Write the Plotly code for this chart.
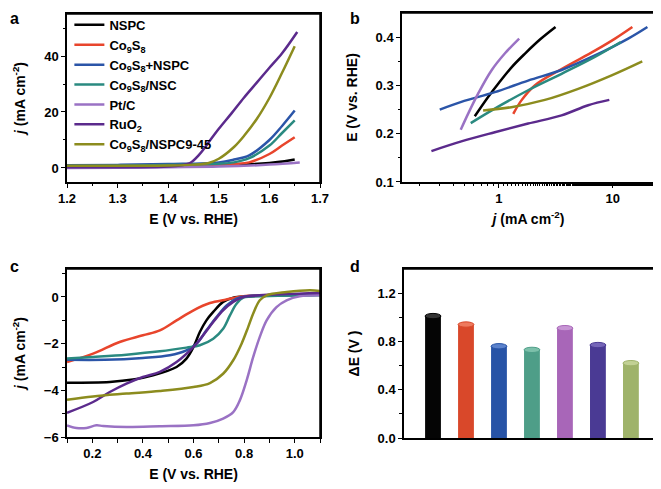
import plotly.graph_objects as go

names = ["NSPC", "Co<sub>9</sub>S<sub>8</sub>", "Co<sub>9</sub>S<sub>8</sub>+NSPC", "Co<sub>9</sub>S<sub>8</sub>/NSC",
         "Pt/C", "RuO<sub>2</sub>", "Co<sub>9</sub>S<sub>8</sub>/NSPC9-45"]
colors = ["#000000", "#e8452c", "#2b55a8", "#2a8a80", "#9a72c4", "#5b2a8c", "#8c8c1e"]

# panel a: OER polarisation (E vs j)
a_nspc_e = [1.2, 1.3, 1.4, 1.5, 1.55, 1.6, 1.63, 1.65]
a_nspc_j = [0.5, 0.5, 0.6, 0.9, 1.2, 1.8, 2.4, 3.0]
a_co_e = [1.2, 1.3, 1.4, 1.5, 1.53, 1.56, 1.6, 1.625, 1.65]
a_co_j = [0.6, 0.6, 0.7, 1.0, 1.4, 2.0, 5.0, 8.0, 11.0]
a_conspc_e = [1.2, 1.3, 1.4, 1.5, 1.53, 1.56, 1.6, 1.625, 1.65]
a_conspc_j = [1.0, 1.1, 1.4, 2.0, 3.0, 4.5, 10.0, 15.0, 20.5]
a_consc_e = [1.2, 1.3, 1.45, 1.5, 1.53, 1.56, 1.6, 1.625, 1.65]
a_consc_j = [0.7, 0.8, 1.2, 1.5, 2.0, 3.5, 8.0, 12.5, 17.0]
a_ptc_e = [1.2, 1.3, 1.4, 1.5, 1.6, 1.66]
a_ptc_j = [0.0, 0.1, 0.3, 0.5, 1.2, 2.0]
a_ruo2_e = [1.2, 1.3, 1.4, 1.44, 1.45, 1.46, 1.47, 1.48, 1.5, 1.525, 1.55, 1.575, 1.6, 1.625, 1.655]
a_ruo2_j = [0.3, 0.3, 0.5, 1.5, 2.7, 4.5, 6.7, 9.2, 14.0, 19.5, 25.2, 30.5, 35.8, 41.0, 48.6]
a_opt_e = [1.2, 1.3, 1.4, 1.45, 1.48, 1.5, 1.53, 1.55, 1.575, 1.6, 1.625, 1.65]
a_opt_j = [0.8, 0.8, 0.9, 1.2, 1.8, 3.3, 7.5, 11.5, 17.5, 25.0, 34.0, 43.5]

# panel b: Tafel plots
b_nspc_j = [0.615, 0.8, 1.0, 1.3, 1.7, 2.3, 3.15]
b_nspc_e = [0.236, 0.275, 0.305, 0.338, 0.366, 0.395, 0.421]
b_co_j = [1.34, 1.58, 2.07, 3.56, 6.98, 10.5, 14.9]
b_co_e = [0.241, 0.269, 0.300, 0.334, 0.372, 0.397, 0.421]
b_conspc_j = [0.303, 0.469, 0.922, 1.81, 3.56, 6.98, 13.7, 20.2]
b_conspc_e = [0.250, 0.266, 0.286, 0.310, 0.332, 0.362, 0.397, 0.421]
b_consc_j = [0.567, 0.922, 1.81, 3.56, 6.98, 11.8]
b_consc_e = [0.222, 0.252, 0.290, 0.324, 0.359, 0.390]
b_ptc_j = [0.463, 0.537, 0.658, 0.862, 1.129, 1.51]
b_ptc_e = [0.208, 0.241, 0.283, 0.331, 0.366, 0.397]
b_ruo2_j = [0.256, 0.469, 0.922, 1.81, 3.56, 6.1, 9.35]
b_ruo2_e = [0.164, 0.184, 0.203, 0.221, 0.238, 0.259, 0.270]
b_opt_j = [0.728, 1.29, 2.54, 4.98, 9.8, 18.2]
b_opt_e = [0.248, 0.255, 0.270, 0.293, 0.321, 0.350]

# panel c: ORR polarisation
c_nspc_e = [0.1, 0.269, 0.361, 0.44, 0.533, 0.572, 0.6, 0.625, 0.651, 0.678, 0.717, 0.757, 0.81, 0.95, 1.1]
c_nspc_j = [-3.67, -3.64, -3.54, -3.36, -3.0, -2.64, -2.14, -1.5, -1.0, -0.64, -0.21, -0.03, 0.03, 0.07, 0.1]
c_co_e = [0.1, 0.203, 0.308, 0.4, 0.467, 0.533, 0.6, 0.665, 0.73, 0.797, 0.86, 1.1]
c_co_j = [-2.79, -2.43, -1.93, -1.64, -1.43, -1.0, -0.57, -0.26, -0.11, 0.03, 0.07, 0.14]
c_conspc_e = [0.1, 0.25, 0.4, 0.506, 0.572, 0.612, 0.651, 0.691, 0.731, 0.77, 0.81, 1.1]
c_conspc_j = [-2.69, -2.69, -2.61, -2.5, -2.29, -2.0, -1.43, -0.86, -0.36, -0.07, 0.03, 0.1]
c_consc_e = [0.1, 0.203, 0.335, 0.467, 0.572, 0.625, 0.678, 0.717, 0.744, 0.77, 0.797, 0.9, 1.1]
c_consc_j = [-2.64, -2.57, -2.47, -2.33, -2.17, -2.07, -1.79, -1.36, -0.79, -0.29, -0.03, 0.04, 0.07]
c_ptc_e = [0.1, 0.137, 0.177, 0.216, 0.243, 0.335, 0.467, 0.6, 0.665, 0.717, 0.757, 0.783, 0.81,
           0.836, 0.862, 0.889, 0.928, 0.968, 1.02, 1.1]
c_ptc_j = [-5.5, -5.61, -5.61, -5.5, -5.53, -5.57, -5.54, -5.5, -5.4, -5.21, -4.93, -4.43, -3.57,
           -2.57, -1.71, -1.0, -0.43, -0.14, 0.03, 0.07]
c_ruo2_e = [0.1, 0.203, 0.269, 0.335, 0.4, 0.467, 0.533, 0.6, 0.638, 0.678, 0.717, 0.757, 0.797, 0.86, 1.1]
c_ruo2_j = [-4.96, -4.5, -4.07, -3.71, -3.43, -3.21, -2.79, -2.14, -1.64, -1.07, -0.57, -0.21, 0.0, 0.07, 0.17]
c_opt_e = [0.1, 0.203, 0.335, 0.467, 0.6, 0.665, 0.717, 0.757, 0.79, 0.816, 0.836, 0.862, 0.889,
           0.968, 1.06, 1.1]
c_opt_j = [-4.4, -4.26, -4.14, -4.03, -3.86, -3.69, -3.29, -2.71, -2.0, -1.29, -0.71, -0.14, 0.07,
           0.21, 0.29, 0.26]

# panel d: potential gap
d_cats = ["NSPC", "Co9S8", "Co9S8+NSPC", "Co9S8/NSC", "Pt/C", "RuO2", "Co9S8/NSPC9-45"]
d_values = [1.01, 0.94, 0.76, 0.73, 0.91, 0.77, 0.62]
d_colors = ["#050505", "#d9482a", "#2753a6", "#4e9e88", "#a866b8", "#4a3a94", "#9fb36a"]
d_tops = ["#333333", "#ee7a5e", "#5b82cc", "#7cc0aa", "#c795d4", "#7565b8", "#c2d194"]

panel_a = [(a_nspc_e, a_nspc_j), (a_co_e, a_co_j), (a_conspc_e, a_conspc_j), (a_consc_e, a_consc_j),
           (a_ptc_e, a_ptc_j), (a_ruo2_e, a_ruo2_j), (a_opt_e, a_opt_j)]
panel_b = [(b_nspc_j, b_nspc_e), (b_co_j, b_co_e), (b_conspc_j, b_conspc_e), (b_consc_j, b_consc_e),
           (b_ptc_j, b_ptc_e), (b_ruo2_j, b_ruo2_e), (b_opt_j, b_opt_e)]
panel_c = [(c_nspc_e, c_nspc_j), (c_co_e, c_co_j), (c_conspc_e, c_conspc_j), (c_consc_e, c_consc_j),
           (c_ptc_e, c_ptc_j), (c_ruo2_e, c_ruo2_j), (c_opt_e, c_opt_j)]

fig = go.Figure()
for i, (x, y) in enumerate(panel_a):
    fig.add_trace(go.Scatter(x=x, y=y, mode="lines", name=names[i], line=dict(color=colors[i], width=2.5, shape="spline"),
                             xaxis="x", yaxis="y"))
for i, (x, y) in enumerate(panel_b):
    fig.add_trace(go.Scatter(x=x, y=y, mode="lines", showlegend=False, line=dict(color=colors[i], width=2.5, shape="spline"),
                             xaxis="x2", yaxis="y2"))
for i, (x, y) in enumerate(panel_c):
    fig.add_trace(go.Scatter(x=x, y=y, mode="lines", showlegend=False, line=dict(color=colors[i], width=2.5, shape="spline"),
                             xaxis="x3", yaxis="y3"))
fig.add_trace(go.Bar(x=d_cats, y=d_values, marker=dict(color=d_colors, line=dict(width=0)), width=0.48,
                     showlegend=False, xaxis="x4", yaxis="y4"))

# elliptical caps to give the cylinder look
for i, v in enumerate(d_values):
    fig.add_shape(type="circle", xref="x4", yref="y4", x0=i - 0.24, x1=i + 0.24, y0=v - 0.022, y1=v + 0.022,
                  fillcolor=d_tops[i], line=dict(color=d_colors[i], width=1))

# panel domains in paper units (page body adds an 8px offset, figure is 8px smaller than the window)
dom_ax = [0.0904, 0.4778]
dom_bx = [0.6034, 0.9908]
dom_dx = [0.6064, 0.9908]
dom_top = [0.6383, 0.9875]
dom_bot = [0.1081, 0.4574]

# top and right frame lines of every panel
for dx, dy in [(dom_ax, dom_top), (dom_bx, [0.6383, 0.9896]), (dom_ax, dom_bot), (dom_dx, [0.1060, 0.4574])]:
    fig.add_shape(type="line", xref="paper", yref="paper", x0=dx[0], x1=dx[1], y0=dy[1], y1=dy[1],
                  line=dict(color="black", width=1.5))
    fig.add_shape(type="line", xref="paper", yref="paper", x0=dx[1], x1=dx[1], y0=dy[0], y1=dy[1],
                  line=dict(color="black", width=1.5))

tf = dict(family="Liberation Sans", size=13, color="black", weight="bold")
ttl = dict(family="Liberation Sans", size=14, color="black", weight="bold")
common = dict(showline=True, linecolor="black", linewidth=1.5, mirror=True, ticks="outside", ticklen=4,
              tickwidth=1.2, tickcolor="black", showgrid=False, zeroline=False, tickfont=tf, automargin=False)

fig.update_layout(
    width=653, height=481, margin=dict(l=0, r=0, t=0, b=0, autoexpand=False),
    plot_bgcolor="white", paper_bgcolor="white",
    font=dict(family="Liberation Sans", color="black"),
    xaxis=dict(domain=dom_ax, range=[1.2, 1.7], dtick=0.1, tickformat=".1f",
               minor=dict(ticks="outside", dtick=0.05, ticklen=2, tickcolor="black"),
               title=dict(text="E (V vs. RHE)", font=ttl, standoff=9), anchor="y", **common),
    yaxis=dict(domain=dom_top, range=[-5, 55], tickvals=[0, 20, 40],
               minor=dict(ticks="outside", tickvals=[10, 30, 50], ticklen=2, tickcolor="black"),
               title=dict(text="<i>j</i> (mA cm<sup>-2</sup>)", font=ttl), anchor="x", **common),
    xaxis2=dict(domain=dom_bx, type="log", range=[-0.85, 1.372], tickvals=[1, 10], ticktext=["1", "10"],
                minor=dict(ticks="outside", ticklen=2, tickcolor="black"),
                title=dict(text="<i>j</i> (mA cm<sup>-2</sup>)", font=ttl, standoff=9), anchor="y2", **common),
    yaxis2=dict(domain=[0.6383, 0.9896], range=[0.1, 0.45], tickvals=[0.1, 0.2, 0.3, 0.4], tickformat=".1f",
                minor=dict(ticks="outside", tickvals=[0.15, 0.25, 0.35], ticklen=2, tickcolor="black"),
                title=dict(text="E (V vs. RHE)", font=ttl), anchor="x2", **common),
    xaxis3=dict(domain=dom_ax, range=[0.1, 1.1], tickvals=[0.2, 0.4, 0.6, 0.8, 1.0], tickformat=".1f",
                minor=dict(ticks="outside", tickvals=[0.1, 0.3, 0.5, 0.7, 0.9, 1.1], ticklen=4, tickcolor="black"),
                title=dict(text="E (V vs. RHE)", font=ttl, standoff=9), anchor="y3", **common),
    yaxis3=dict(domain=dom_bot, range=[-6, 1.2], tickvals=[-6, -4, -2, 0],
                minor=dict(ticks="outside", tickvals=[-5, -3, -1, 1], ticklen=3, tickcolor="black"),
                title=dict(text="<i>j</i> (mA cm<sup>-2</sup>)", font=ttl), anchor="x3", **common),
    xaxis4=dict(domain=dom_dx, range=[-0.88, 6.73], showticklabels=False, anchor="y4",
                **{k: v for k, v in common.items() if k != "ticks"}),
    yaxis4=dict(domain=[0.1060, 0.4574], range=[0, 1.4], tickvals=[0, 0.4, 0.8, 1.2], tickformat=".1f",
                minor=dict(ticks="outside", tickvals=[0.2, 0.6, 1.0], ticklen=3, tickcolor="black"),
                title=dict(text="ΔE (V )", font=ttl), anchor="x4", **common),
    legend=dict(x=0.094, y=0.996, xanchor="left", yanchor="top", bgcolor="rgba(0,0,0,0)",
                font=dict(family="Liberation Sans", size=13, color="black", weight="bold"),
                tracegroupgap=0, itemwidth=30),
)

for label, x, y in [("a", 0.0, 1.0), ("b", 0.521, 1.0), ("c", 0.0, 0.484), ("d", 0.521, 0.484)]:
    fig.add_annotation(text=label, x=x, y=y, xref="paper", yref="paper", xanchor="left", yanchor="top",
                       showarrow=False, font=dict(family="Liberation Sans", size=16, color="black", weight="bold"))

fig.write_html("out.html")
